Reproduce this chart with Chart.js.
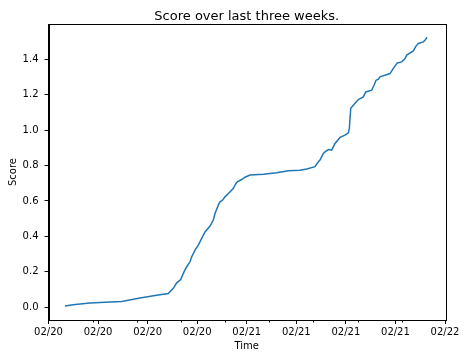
<!DOCTYPE html>
<html>
<head>
<meta charset="utf-8">
<script src="https://cdn.jsdelivr.net/npm/chart.js@4/dist/chart.umd.min.js"></script>
<style>
    body { margin: 0; background: #fff; }
    #score { display: block; }
</style>
</head>
<body>
<canvas id="score" width="468" height="360"></canvas>
<script>
// time is measured in tick steps along the axis (0 .. 8)
var times = [0.333, 0.494, 0.837, 1.140, 1.477, 1.846, 2.149, 2.417, 2.518, 2.587,
    2.667, 2.734, 2.789, 2.855, 2.889, 2.922, 2.956, 3.023, 3.091, 3.158,
    3.259, 3.325, 3.360, 3.426, 3.460, 3.515, 3.561, 3.628, 3.662, 3.729,
    3.783, 3.809, 3.898, 3.965, 4.066, 4.334, 4.605, 4.839, 5.075, 5.210,
    5.377, 5.444, 5.478, 5.545, 5.579, 5.646, 5.714, 5.781, 5.882, 5.983,
    6.049, 6.070, 6.098, 6.150, 6.251, 6.352, 6.401, 6.521, 6.568, 6.608,
    6.655, 6.689, 6.891, 6.957, 7.038, 7.127, 7.193, 7.228, 7.361, 7.415,
    7.462, 7.563, 7.597, 7.637];
var scores = [0.006, 0.013, 0.023, 0.027, 0.032, 0.051, 0.065, 0.077, 0.106, 0.137,
    0.156, 0.199, 0.228, 0.256, 0.284, 0.303, 0.322, 0.350, 0.388, 0.425,
    0.458, 0.492, 0.529, 0.576, 0.595, 0.605, 0.623, 0.642, 0.651, 0.671,
    0.699, 0.708, 0.721, 0.734, 0.746, 0.751, 0.759, 0.770, 0.774, 0.780,
    0.794, 0.821, 0.831, 0.868, 0.877, 0.890, 0.887, 0.925, 0.959, 0.972,
    0.985, 1.010, 1.123, 1.141, 1.173, 1.188, 1.216, 1.226, 1.254, 1.282,
    1.288, 1.301, 1.320, 1.349, 1.380, 1.386, 1.405, 1.424, 1.448, 1.475,
    1.490, 1.499, 1.508, 1.525];
var xTickLabels = ['02/20', '02/20', '02/20', '02/20', '02/21', '02/21', '02/21', '02/21', '02/22'];
var xTicks = [0, 1, 2, 3, 4, 5, 6, 7, 8];
var xMinorTicks = [0.891, 1.782, 2.673, 3.564, 4.455, 5.346, 6.237, 7.128];
var yTicks = [0, 0.2, 0.4, 0.6, 0.8, 1.0, 1.2, 1.4];
var chartTitle = 'Score over last three weeks.';

var FONT = 'DejaVu Sans';

// axes box, minor ticks and a title centred over the plot area
var frame = {
    id: 'frame',
    afterDraw: function (chart) {
        var ctx = chart.ctx;
        var a = chart.chartArea;
        var x = chart.scales.x;
        ctx.save();
        ctx.strokeStyle = '#000';
        ctx.lineWidth = 1;
        ctx.strokeRect(Math.round(a.left) + 0.5, Math.round(a.top) + 0.5,
            Math.round(a.right - a.left), Math.round(a.bottom - a.top));
        xMinorTicks.forEach(function (v) {
            var px = Math.round(x.getPixelForValue(v)) + 0.5;
            ctx.beginPath();
            ctx.moveTo(px, a.bottom);
            ctx.lineTo(px, a.bottom + 2.5);
            ctx.stroke();
        });
        ctx.fillStyle = '#000';
        ctx.font = '13px "' + FONT + '"';
        ctx.textAlign = 'center';
        ctx.textBaseline = 'alphabetic';
        ctx.fillText(chartTitle, (a.left + a.right) / 2, 20);
        ctx.restore();
    }
};

window.addEventListener('load', function () {
    var ctx = document.getElementById('score').getContext('2d');
    var points = times.map(function (t, i) { return { x: t, y: scores[i] }; });
    new Chart(ctx, {
        type: 'line',
        data: {
            datasets: [{
                label: 'Score',
                data: points,
                borderColor: '#1f77b4',
                borderWidth: 1.5,
                pointRadius: 0,
                tension: 0,
                fill: false
            }]
        },
        options: {
            responsive: false,
            animation: false,
            layout: { padding: { left: 0, right: 23, top: 24, bottom: 0 } },
            plugins: {
                legend: { display: false },
                tooltip: { enabled: false },
                title: { display: false }
            },
            scales: {
                x: {
                    type: 'linear',
                    min: 0,
                    max: 8,
                    afterFit: function (s) { s.height = 40; },
                    afterBuildTicks: function (s) { s.ticks = xTicks.map(function (v) { return { value: v }; }); },
                    grid: { drawOnChartArea: false, drawTicks: true, tickLength: 4, color: '#000' },
                    border: { display: true, color: '#000', width: 1 },
                    ticks: {
                        color: '#000',
                        padding: 2,
                        maxRotation: 0,
                        font: { family: FONT, size: 10 },
                        callback: function (v) { return xTickLabels[v]; }
                    },
                    title: {
                        display: true,
                        text: 'Time',
                        color: '#000',
                        font: { family: FONT, size: 10 },
                        padding: { top: 0, bottom: 8 }
                    }
                },
                y: {
                    type: 'linear',
                    min: -0.073,
                    max: 1.6,
                    afterFit: function (s) { s.width = 48.5; },
                    afterBuildTicks: function (s) { s.ticks = yTicks.map(function (v) { return { value: v }; }); },
                    grid: { drawOnChartArea: false, drawTicks: true, tickLength: 4, color: '#000' },
                    border: { display: true, color: '#000', width: 1 },
                    ticks: {
                        color: '#000',
                        padding: 6,
                        font: { family: FONT, size: 10 },
                        callback: function (v) { return v.toFixed(1); }
                    },
                    title: {
                        display: true,
                        text: 'Score',
                        color: '#000',
                        font: { family: FONT, size: 10 },
                        padding: { top: 7, bottom: 0 }
                    }
                }
            }
        },
        plugins: [frame]
    });
});
</script>
</body>
</html>
